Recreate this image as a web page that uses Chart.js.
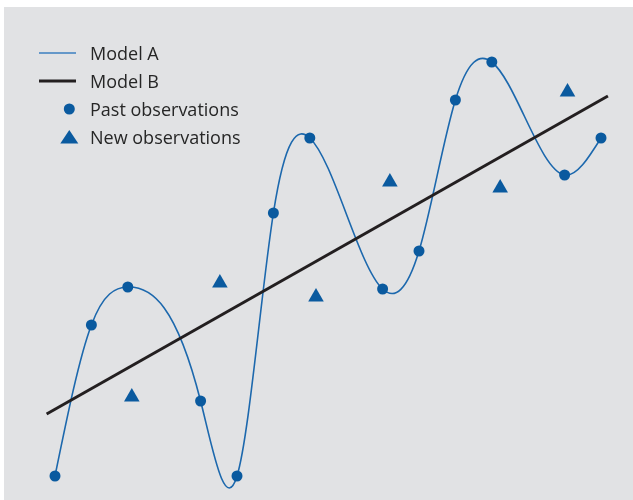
<!DOCTYPE html>
<html>
<head>
<meta charset="utf-8">
<script src="https://cdn.jsdelivr.net/npm/chart.js@4"></script>
<style>
  html, body { margin: 0; padding: 0; background: #fff; }
  body { width: 633px; height: 500px; position: relative; overflow: hidden; font-family: 'Open Sans', sans-serif; }
  #panel { position: absolute; left: 4px; top: 7px; width: 629px; height: 493px; background: #e1e2e4; }
  #panel canvas { position: absolute; left: 0; top: 0; }
  .legend { position: absolute; left: 0; top: 0; }
  .leg-row { position: absolute; left: 0; height: 28px; width: 300px; }
  .leg-row svg { position: absolute; left: 30px; top: 0; }
  .leg-row span { position: absolute; left: 86px; top: 0; line-height: 28px; font-size: 18px; color: #262626; white-space: nowrap; }
</style>
</head>
<body>
<div id="panel">
  <canvas id="c"></canvas>
  <div class="legend" id="legend"></div>
</div>
<script>
// Past observations (fitted by both models)
const pastX = [0, 1, 2, 4, 5, 6, 7, 9, 10, 11, 12, 14, 15];
const pastY = [2.4, 17.5, 21.3, 9.9, 2.4, 28.7, 36.2, 21.1, 24.9, 40.0, 43.8, 32.5, 36.2];

// New observations
const newX = [2.11, 4.53, 7.17, 9.20, 12.23, 14.08];
const newY = [10.3, 21.7, 20.3, 31.8, 31.2, 40.8];

// Model B: straight trend line end points
const modelBX = [-0.23, 15.19];
const modelBY = [8.6, 40.4];

const BLUE = '#0a5a9f';
const LINE_A = '#1c68ad';
const LINE_B = '#231f20';

const pts = (xs, ys) => xs.map((x, i) => ({ x, y: ys[i] }));

// Model A is an interpolating cubic spline through the past observations.
// Chart.js computes its own bezier control points; for datasets flagged with
// `naturalSpline` we replace them with those of a natural cubic spline (in pixel space).
function setNaturalSplineControls(points) {
  const n = points.length;
  const xs = points.map(p => p.x), ys = points.map(p => p.y);
  const h = [];
  for (let i = 0; i < n - 1; i++) h.push(xs[i + 1] - xs[i]);
  const a = new Array(n).fill(0), b = new Array(n).fill(1), c = new Array(n).fill(0), d = new Array(n).fill(0);
  for (let i = 1; i < n - 1; i++) {
    a[i] = h[i - 1]; b[i] = 2 * (h[i - 1] + h[i]); c[i] = h[i];
    d[i] = 6 * ((ys[i + 1] - ys[i]) / h[i] - (ys[i] - ys[i - 1]) / h[i - 1]);
  }
  for (let i = 1; i < n; i++) { const w = a[i] / b[i - 1]; b[i] -= w * c[i - 1]; d[i] -= w * d[i - 1]; }
  const M = new Array(n);
  M[n - 1] = d[n - 1] / b[n - 1];
  for (let i = n - 2; i >= 0; i--) M[i] = (d[i] - c[i] * M[i + 1]) / b[i];
  for (let i = 0; i < n - 1; i++) {
    const s = (ys[i + 1] - ys[i]) / h[i];
    const m0 = s - h[i] * (2 * M[i] + M[i + 1]) / 6;
    const m1 = s + h[i] * (M[i] + 2 * M[i + 1]) / 6;
    points[i].cp2x = xs[i] + h[i] / 3;      points[i].cp2y = ys[i] + m0 * h[i] / 3;
    points[i + 1].cp1x = xs[i + 1] - h[i] / 3; points[i + 1].cp1y = ys[i + 1] - m1 * h[i] / 3;
  }
}

const naturalSpline = {
  id: 'naturalSpline',
  beforeDatasetDraw(chart, args) {
    const ds = chart.data.datasets[args.index];
    if (!ds.naturalSpline) return;
    const line = args.meta.dataset;
    line.updateControlPoints(chart.chartArea, 'x');
    setNaturalSplineControls(args.meta.data);
    line._path = undefined;
  }
};

new Chart(document.getElementById('c'), {
  type: 'scatter',
  data: {
    datasets: [
      {
        label: 'Past observations',
        data: pts(pastX, pastY),
        pointStyle: 'circle',
        pointRadius: 5.5,
        backgroundColor: BLUE,
        borderWidth: 0,
        order: 0,
      },
      {
        label: 'New observations',
        data: pts(newX, newY),
        pointStyle: 'triangle',
        pointRadius: 9,
        backgroundColor: BLUE,
        borderWidth: 0,
        order: 0,
      },
      {
        type: 'line',
        label: 'Model B',
        data: pts(modelBX, modelBY),
        borderColor: LINE_B,
        borderWidth: 3,
        pointRadius: 0,
        fill: false,
        order: 1,
      },
      {
        type: 'line',
        label: 'Model A',
        data: pts(pastX, pastY),
        borderColor: LINE_A,
        borderWidth: 1.6,
        pointRadius: 0,
        tension: 0.4,
        naturalSpline: true,
        fill: false,
        order: 2,
      },
    ]
  },
  options: {
    responsive: true,
    maintainAspectRatio: false,
    animation: false,
    layout: { padding: 0, autoPadding: false },
    plugins: { legend: { display: false }, tooltip: { enabled: false } },
    scales: {
      x: { type: 'linear', display: false, min: -1.401, max: 15.879 },
      y: { type: 'linear', display: false, min: 0, max: 49.3 },
    }
  },
  plugins: [naturalSpline]
});

// Legend (HTML, top-left inside the panel)
const legendItems = [
  { label: 'Model A', svg: `<line x1="5" y1="14" x2="42" y2="14" stroke="#3b7fc1" stroke-width="1.5"/>` },
  { label: 'Model B', svg: `<line x1="5" y1="14" x2="42" y2="14" stroke="${LINE_B}" stroke-width="3"/>` },
  { label: 'Past observations', svg: `<circle cx="35.3" cy="14" r="5.5" fill="${BLUE}"/>` },
  { label: 'New observations', svg: `<polygon points="35.3,7 44.3,20.5 26.3,20.5" fill="${BLUE}"/>` },
];
const legEl = document.getElementById('legend');
legEl.innerHTML = legendItems.map((it, i) =>
  `<div class="leg-row" style="top:${31.7 + i * 28}px">` +
  `<svg width="50" height="28">${it.svg}</svg><span>${it.label}</span></div>`
).join('');
</script>
</body>
</html>
